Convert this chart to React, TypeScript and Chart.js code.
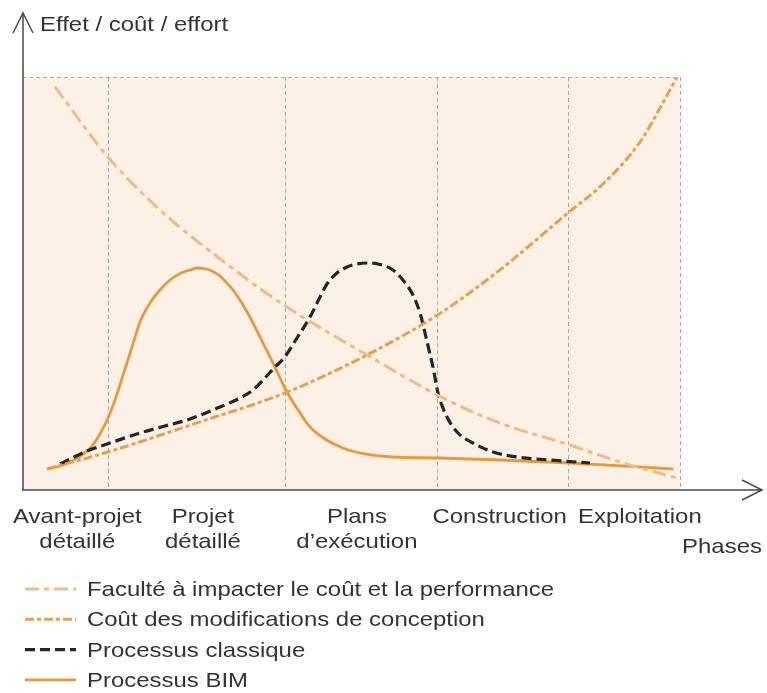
import React, { useEffect, useRef } from "react";
import { Chart, registerables } from "chart.js";

Chart.register(...registerables);

// Phase boundaries (x units, 0..100 = horizontal extent of plot)
const phaseBounds = [13.07, 39.97, 63.07, 82.98, 100];
const phaseLabels = [["Avant-projet", "détaillé"], ["Projet", "détaillé"], ["Plans", "d’exécution"], ["Construction"], ["Exploitation"]];
const phaseLabelX = [8.4, 27.5, 50.9, 72.6, 93.9];

const yTitle = "Effet / coût / effort";
const xTitle = "Phases";

// Faculté à impacter le coût et la performance
const facX = [5.02, 13.07, 20.97, 31.31, 39.97, 52.43, 63.37, 72.64, 83.28, 90.88, 99.54];
const facY = [97.6, 80.6, 67.8, 54.5, 44.6, 32.7, 22.8, 16.2, 10.9, 6.8, 2.9];

// Coût des modifications de conception
const coutX = [3.8, 13.07, 27.05, 39.97, 52.43, 63.37, 72.64, 82.98, 88.45, 93.92, 96.96, 99.54];
const coutY = [5.1, 9.2, 16.5, 23.5, 32.7, 42.6, 53.3, 67.1, 74.33, 84.26, 92.49, 100.0];

// Processus classique
const classX = [5.78, 9.57, 13.37, 17.93, 21.73, 25.08, 30.09, 33.13, 35.11, 36.93, 38.45, 39.82, 41.79, 43.77, 45.29, 46.35, 47.87, 49.39, 50.91, 52.43, 54.1, 56.38, 57.9, 59.42, 60.49, 61.25, 61.85, 62.46, 63.22, 64.59, 66.26, 68.54, 71.58, 75.23, 80.24, 86.32];
const classY = [6.3, 9.2, 11.38, 13.8, 15.5, 16.95, 20.1, 22.28, 24.21, 27.12, 29.78, 31.96, 36.8, 41.89, 46.73, 49.88, 52.54, 54.0, 54.72, 54.96, 54.72, 53.27, 50.85, 47.22, 42.86, 38.01, 33.9, 29.78, 23.49, 17.68, 13.8, 11.38, 9.2, 7.99, 7.26, 6.54];

// Processus BIM
const bimX = [3.8, 5.78, 7.6, 9.12, 10.64, 11.85, 13.07, 14.29, 15.5, 16.72, 17.93, 19.45, 20.97, 22.49, 24.01, 25.53, 26.75, 28.27, 29.79, 30.55, 32.07, 33.59, 35.11, 36.63, 38.15, 40.27, 41.95, 43.77, 46.05, 48.78, 52.13, 56.38, 63.37, 72.64, 83.28, 98.94];
const bimY = [5.08, 5.81, 7.02, 8.47, 10.65, 13.56, 17.43, 22.52, 28.57, 34.62, 40.68, 45.28, 48.43, 50.85, 52.42, 53.27, 53.75, 53.39, 52.18, 51.09, 48.43, 44.79, 40.44, 35.59, 30.75, 23.73, 19.37, 15.25, 12.35, 10.17, 8.72, 7.99, 7.75, 7.26, 6.54, 5.08];

const seriesNames = [
  "Faculté à impacter le coût et la performance",
  "Coût des modifications de conception",
  "Processus classique",
  "Processus BIM",
];

const BG = "#FBF1E6";
const GRID = "#A9A9A9";
const AXIS = "#4a4a4a";
const TEXT = "#333333";
const FONT = '21px "Liberation Sans", Arial, sans-serif';
const SX = 1.14;

const pts = (xs: number[], ys: number[]) => xs.map((x, i) => ({ x, y: ys[i] }));

function txt(ctx: CanvasRenderingContext2D, s: string, x: number, y: number, align: CanvasTextAlign) {
  ctx.save();
  ctx.translate(x, y);
  ctx.scale(SX, 1);
  ctx.textAlign = align;
  ctx.textBaseline = "alphabetic";
  ctx.fillText(s, 0, 0);
  ctx.restore();
}

const decor = {
  id: "decor",
  beforeDraw(chart: any) {
    const { ctx, chartArea: a } = chart;
    ctx.save();
    ctx.fillStyle = BG;
    ctx.fillRect(a.left, a.top, a.right - a.left, a.bottom - a.top);
    ctx.restore();
  },
  afterDraw(chart: any) {
    const { ctx, chartArea: a, scales } = chart;
    const xs = scales.x;
    ctx.save();
    ctx.strokeStyle = AXIS;
    ctx.lineWidth = 1.5;
    ctx.setLineDash([]);
    ctx.beginPath();
    ctx.moveTo(a.left + 1, a.bottom);
    ctx.lineTo(a.left + 1, a.top - 64);
    ctx.moveTo(a.left - 9, a.top - 44);
    ctx.lineTo(a.left + 1, a.top - 64);
    ctx.lineTo(a.left + 11, a.top - 44);
    ctx.moveTo(a.left, a.bottom);
    ctx.lineTo(a.right + 82, a.bottom);
    ctx.moveTo(a.right + 62, a.bottom - 10);
    ctx.lineTo(a.right + 82, a.bottom);
    ctx.lineTo(a.right + 62, a.bottom + 10);
    ctx.stroke();

    ctx.fillStyle = TEXT;
    ctx.font = FONT;
    txt(ctx, yTitle, a.left + 18, a.top - 46, "left");
    phaseLabels.forEach((lines, i) => {
      const px = xs.getPixelForValue(phaseLabelX[i]);
      lines.forEach((l, j) => txt(ctx, l, px, a.bottom + 33 + j * 25, "center"));
    });
    txt(ctx, xTitle, a.right + 42, a.bottom + 63, "center");

    chart.data.datasets.forEach((ds: any, i: number) => {
      const base = a.bottom + 106 + i * 30.3;
      const ly = base - 7;
      ctx.save();
      ctx.strokeStyle = ds.borderColor;
      ctx.lineWidth = ds.borderWidth;
      ctx.setLineDash(ds.borderDash || []);
      ctx.beginPath();
      ctx.moveTo(25, ly);
      ctx.lineTo(76, ly);
      ctx.stroke();
      ctx.restore();
      ctx.fillStyle = TEXT;
      ctx.font = FONT;
      txt(ctx, ds.label, 87, base, "left");
    });
    ctx.restore();
  },
};

export default function App() {
  const ref = useRef<HTMLCanvasElement | null>(null);
  useEffect(() => {
    if (!ref.current) return;
    const common = { pointRadius: 0, fill: false, cubicInterpolationMode: "monotone" as const, borderCapStyle: "butt" as const };
    const chart = new Chart(ref.current, {
      type: "line",
      data: {
        datasets: [
          { ...common, label: seriesNames[0], data: pts(facX, facY), borderColor: "#F0BC84", borderWidth: 3, borderDash: [14, 5, 5, 5] },
          { ...common, label: seriesNames[1], data: pts(coutX, coutY), borderColor: "#E99F4B", borderWidth: 3, borderDash: [9, 3, 4, 3] },
          { ...common, label: seriesNames[2], data: pts(classX, classY), borderColor: "#262626", borderWidth: 3.2, borderDash: [10, 5] },
          { ...common, label: seriesNames[3], data: pts(bimX, bimY), borderColor: "#E8993B", borderWidth: 2.8 },
        ],
      },
      options: {
        responsive: false,
        animation: false,
        layout: { padding: { left: 22, right: 87, top: 77, bottom: 203 } },
        plugins: { legend: { display: false }, tooltip: { enabled: false } },
        scales: {
          x: {
            type: "linear",
            min: 0,
            max: 100,
            afterBuildTicks: (s: any) => {
              s.ticks = phaseBounds.map((v) => ({ value: v }));
            },
            ticks: { display: false },
            grid: { color: GRID, lineWidth: 1, drawTicks: false },
            border: { display: false, dash: [4, 3] },
          },
          y: {
            min: 0,
            max: 100,
            afterBuildTicks: (s: any) => {
              s.ticks = [{ value: 100 }];
            },
            ticks: { display: false },
            grid: { color: GRID, lineWidth: 1, drawTicks: false },
            border: { display: false, dash: [4, 3] },
          },
        },
      },
      plugins: [decor],
    });
    return () => chart.destroy();
  }, []);
  return (
    <div style={{ position: "absolute", left: 0, top: 0, width: 767, height: 693, background: "#fff" }}>
      <canvas ref={ref} width={767} height={693} style={{ display: "block" }} />
    </div>
  );
}
